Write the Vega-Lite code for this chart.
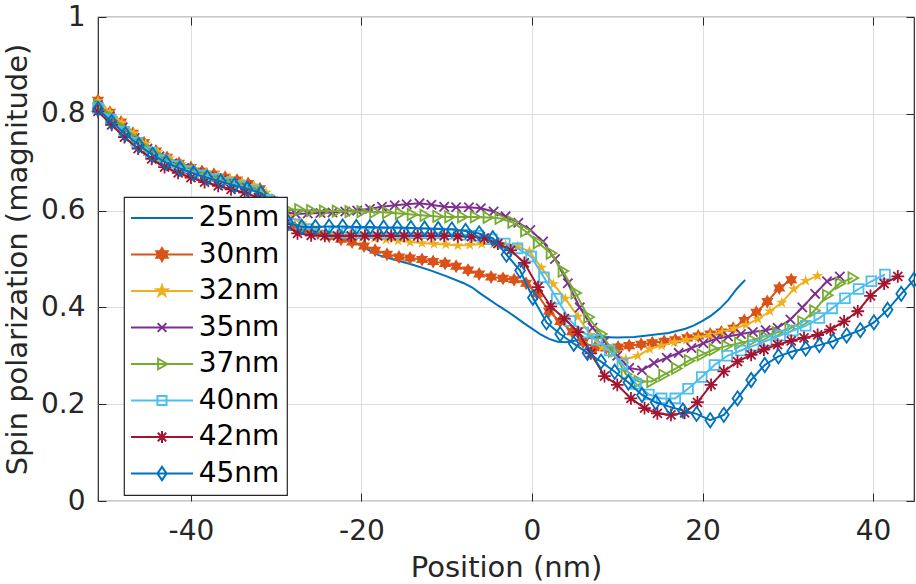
{
  "$schema": "https://vega.github.io/schema/vega-lite/v6.json",
  "width": 816,
  "height": 484,
  "autosize": "none",
  "padding": {"left": 98, "top": 17, "right": 2, "bottom": 83},
  "config": {
    "view": {"stroke": "#262626", "strokeWidth": 1.2},
    "font": "DejaVu Sans",
    "axis": {
      "labelFont": "DejaVu Sans", "labelFontSize": 28, "labelColor": "#262626",
      "titleFont": "DejaVu Sans", "titleFontSize": 29, "titleFontWeight": "normal", "titleColor": "#262626",
      "tickColor": "#262626", "tickSize": -8, "tickWidth": 1, "domain": false,
      "gridColor": "#dedede", "gridWidth": 1
    },
    "legend": {
      "orient": "none", "legendX": 26, "legendY": 180, "padding": 7,
      "strokeColor": "#262626", "strokeWidth": 1.2, "fillColor": "white",
      "labelFont": "DejaVu Sans", "labelFontSize": 28, "labelColor": "black", "labelLimit": 0,
      "labelOffset": 22.7, "symbolOffset": 17, "symbolSize": 196, "symbolStrokeWidth": 2, "rowPadding": 8.5
    }
  },
  "data": {
    "values": [
      {"s":"25nm","x":-50.9,"y":0.820},{"s":"25nm","x":-49.5,"y":0.797},{"s":"25nm","x":-48,"y":0.774},{"s":"25nm","x":-46.5,"y":0.752},
      {"s":"25nm","x":-45,"y":0.732},{"s":"25nm","x":-43.5,"y":0.716},{"s":"25nm","x":-42,"y":0.702},{"s":"25nm","x":-40,"y":0.689},
      {"s":"25nm","x":-38,"y":0.679},{"s":"25nm","x":-36,"y":0.670},{"s":"25nm","x":-34,"y":0.663},{"s":"25nm","x":-33,"y":0.658},
      {"s":"25nm","x":-32,"y":0.650},{"s":"25nm","x":-31,"y":0.636},{"s":"25nm","x":-30,"y":0.615},{"s":"25nm","x":-29,"y":0.588},
      {"s":"25nm","x":-28,"y":0.568},{"s":"25nm","x":-27,"y":0.561},{"s":"25nm","x":-26,"y":0.558},{"s":"25nm","x":-24,"y":0.552},
      {"s":"25nm","x":-22,"y":0.543},{"s":"25nm","x":-21,"y":0.536},{"s":"25nm","x":-20,"y":0.527},{"s":"25nm","x":-19,"y":0.517},
      {"s":"25nm","x":-18,"y":0.508},{"s":"25nm","x":-16,"y":0.498},{"s":"25nm","x":-14,"y":0.488},{"s":"25nm","x":-12,"y":0.477},
      {"s":"25nm","x":-10,"y":0.464},{"s":"25nm","x":-8,"y":0.450},{"s":"25nm","x":-7,"y":0.441},{"s":"25nm","x":-6,"y":0.428},
      {"s":"25nm","x":-5,"y":0.416},{"s":"25nm","x":-4,"y":0.404},{"s":"25nm","x":-3,"y":0.393},{"s":"25nm","x":-2,"y":0.381},
      {"s":"25nm","x":-1,"y":0.368},{"s":"25nm","x":0,"y":0.356},{"s":"25nm","x":1,"y":0.344},{"s":"25nm","x":2,"y":0.335},
      {"s":"25nm","x":3,"y":0.329},{"s":"25nm","x":4,"y":0.328},{"s":"25nm","x":5,"y":0.331},{"s":"25nm","x":6,"y":0.335},
      {"s":"25nm","x":7,"y":0.338},{"s":"25nm","x":8,"y":0.339},{"s":"25nm","x":10,"y":0.338},{"s":"25nm","x":12,"y":0.339},
      {"s":"25nm","x":14,"y":0.343},{"s":"25nm","x":16,"y":0.347},{"s":"25nm","x":18,"y":0.356},{"s":"25nm","x":19,"y":0.363},
      {"s":"25nm","x":20,"y":0.372},{"s":"25nm","x":21,"y":0.383},{"s":"25nm","x":22,"y":0.397},{"s":"25nm","x":23,"y":0.415},
      {"s":"25nm","x":24,"y":0.438},{"s":"25nm","x":25,"y":0.457},

      {"s":"30nm","x":-50.9,"y":0.828},{"s":"30nm","x":-49.5,"y":0.803},{"s":"30nm","x":-48.2,"y":0.783},{"s":"30nm","x":-46.8,"y":0.760},
      {"s":"30nm","x":-45.5,"y":0.740},{"s":"30nm","x":-44.1,"y":0.723},{"s":"30nm","x":-42.8,"y":0.710},{"s":"30nm","x":-41.4,"y":0.698},
      {"s":"30nm","x":-40.0,"y":0.689},{"s":"30nm","x":-38.7,"y":0.681},{"s":"30nm","x":-37.3,"y":0.675},{"s":"30nm","x":-36.0,"y":0.669},
      {"s":"30nm","x":-34.6,"y":0.663},{"s":"30nm","x":-33.3,"y":0.656},{"s":"30nm","x":-31.9,"y":0.645},{"s":"30nm","x":-30.5,"y":0.622},
      {"s":"30nm","x":-29.2,"y":0.590},{"s":"30nm","x":-27.8,"y":0.565},{"s":"30nm","x":-26.5,"y":0.560},{"s":"30nm","x":-25.1,"y":0.553},
      {"s":"30nm","x":-23.8,"y":0.547},{"s":"30nm","x":-22.4,"y":0.541},{"s":"30nm","x":-21.1,"y":0.535},{"s":"30nm","x":-19.7,"y":0.527},
      {"s":"30nm","x":-18.4,"y":0.518},{"s":"30nm","x":-17.0,"y":0.510},{"s":"30nm","x":-15.6,"y":0.504},{"s":"30nm","x":-14.3,"y":0.502},
      {"s":"30nm","x":-12.9,"y":0.499},{"s":"30nm","x":-11.6,"y":0.495},{"s":"30nm","x":-10.2,"y":0.491},{"s":"30nm","x":-8.9,"y":0.485},
      {"s":"30nm","x":-7.5,"y":0.477},{"s":"30nm","x":-6.2,"y":0.469},{"s":"30nm","x":-4.8,"y":0.463},{"s":"30nm","x":-3.4,"y":0.460},
      {"s":"30nm","x":-2.1,"y":0.457},{"s":"30nm","x":-0.7,"y":0.450},{"s":"30nm","x":0.6,"y":0.428},{"s":"30nm","x":2.0,"y":0.392},
      {"s":"30nm","x":3.3,"y":0.371},{"s":"30nm","x":4.7,"y":0.350},{"s":"30nm","x":6.0,"y":0.328},{"s":"30nm","x":7.4,"y":0.317},
      {"s":"30nm","x":8.7,"y":0.316},{"s":"30nm","x":10.1,"y":0.318},{"s":"30nm","x":11.4,"y":0.321},{"s":"30nm","x":12.8,"y":0.324},
      {"s":"30nm","x":14.1,"y":0.327},{"s":"30nm","x":15.5,"y":0.330},{"s":"30nm","x":16.8,"y":0.333},{"s":"30nm","x":18.2,"y":0.337},
      {"s":"30nm","x":19.5,"y":0.341},{"s":"30nm","x":20.9,"y":0.345},{"s":"30nm","x":22.2,"y":0.349},{"s":"30nm","x":23.6,"y":0.357},
      {"s":"30nm","x":24.9,"y":0.373},{"s":"30nm","x":26.3,"y":0.390},{"s":"30nm","x":27.6,"y":0.412},{"s":"30nm","x":29.0,"y":0.440},
      {"s":"30nm","x":30.4,"y":0.457},

      {"s":"32nm","x":-50.9,"y":0.826},{"s":"32nm","x":-49.5,"y":0.803},{"s":"32nm","x":-48.1,"y":0.782},{"s":"32nm","x":-46.7,"y":0.760},
      {"s":"32nm","x":-45.3,"y":0.738},{"s":"32nm","x":-43.9,"y":0.721},{"s":"32nm","x":-42.5,"y":0.708},{"s":"32nm","x":-41.1,"y":0.696},
      {"s":"32nm","x":-39.6,"y":0.686},{"s":"32nm","x":-38.2,"y":0.679},{"s":"32nm","x":-36.8,"y":0.673},{"s":"32nm","x":-35.4,"y":0.667},
      {"s":"32nm","x":-34.0,"y":0.660},{"s":"32nm","x":-32.6,"y":0.652},{"s":"32nm","x":-31.2,"y":0.637},{"s":"32nm","x":-29.8,"y":0.610},
      {"s":"32nm","x":-28.4,"y":0.588},{"s":"32nm","x":-27.0,"y":0.574},{"s":"32nm","x":-25.6,"y":0.562},{"s":"32nm","x":-24.2,"y":0.553},
      {"s":"32nm","x":-22.8,"y":0.550},{"s":"32nm","x":-21.4,"y":0.548},{"s":"32nm","x":-19.9,"y":0.545},{"s":"32nm","x":-18.5,"y":0.543},
      {"s":"32nm","x":-17.1,"y":0.540},{"s":"32nm","x":-15.7,"y":0.538},{"s":"32nm","x":-14.3,"y":0.535},{"s":"32nm","x":-12.9,"y":0.533},
      {"s":"32nm","x":-11.5,"y":0.531},{"s":"32nm","x":-10.1,"y":0.530},{"s":"32nm","x":-8.7,"y":0.528},{"s":"32nm","x":-7.3,"y":0.529},
      {"s":"32nm","x":-5.9,"y":0.531},{"s":"32nm","x":-4.5,"y":0.531},{"s":"32nm","x":-3.1,"y":0.529},{"s":"32nm","x":-1.7,"y":0.526},
      {"s":"32nm","x":-0.3,"y":0.516},{"s":"32nm","x":1.1,"y":0.482},{"s":"32nm","x":2.5,"y":0.448},{"s":"32nm","x":3.9,"y":0.418},
      {"s":"32nm","x":5.4,"y":0.381},{"s":"32nm","x":6.8,"y":0.343},{"s":"32nm","x":8.2,"y":0.318},{"s":"32nm","x":9.6,"y":0.305},
      {"s":"32nm","x":11.0,"y":0.293},{"s":"32nm","x":12.4,"y":0.300},{"s":"32nm","x":13.8,"y":0.314},{"s":"32nm","x":15.2,"y":0.321},
      {"s":"32nm","x":16.7,"y":0.328},{"s":"32nm","x":18.1,"y":0.333},{"s":"32nm","x":19.5,"y":0.338},{"s":"32nm","x":20.9,"y":0.343},
      {"s":"32nm","x":22.3,"y":0.349},{"s":"32nm","x":23.7,"y":0.356},{"s":"32nm","x":25.1,"y":0.364},{"s":"32nm","x":26.5,"y":0.376},
      {"s":"32nm","x":27.9,"y":0.392},{"s":"32nm","x":29.3,"y":0.410},{"s":"32nm","x":30.7,"y":0.438},{"s":"32nm","x":32.1,"y":0.455},
      {"s":"32nm","x":33.5,"y":0.465},

      {"s":"35nm","x":-50.9,"y":0.818},{"s":"35nm","x":-49.5,"y":0.795},{"s":"35nm","x":-48.0,"y":0.772},{"s":"35nm","x":-46.6,"y":0.750},
      {"s":"35nm","x":-45.1,"y":0.728},{"s":"35nm","x":-43.7,"y":0.712},{"s":"35nm","x":-42.2,"y":0.698},{"s":"35nm","x":-40.8,"y":0.688},
      {"s":"35nm","x":-39.3,"y":0.678},{"s":"35nm","x":-37.9,"y":0.670},{"s":"35nm","x":-36.4,"y":0.663},{"s":"35nm","x":-35.0,"y":0.656},
      {"s":"35nm","x":-33.5,"y":0.648},{"s":"35nm","x":-32.1,"y":0.638},{"s":"35nm","x":-30.6,"y":0.618},{"s":"35nm","x":-29.2,"y":0.598},
      {"s":"35nm","x":-27.7,"y":0.593},{"s":"35nm","x":-26.3,"y":0.594},{"s":"35nm","x":-24.8,"y":0.595},{"s":"35nm","x":-23.4,"y":0.596},
      {"s":"35nm","x":-21.9,"y":0.598},{"s":"35nm","x":-20.5,"y":0.600},{"s":"35nm","x":-19.0,"y":0.604},{"s":"35nm","x":-17.6,"y":0.608},
      {"s":"35nm","x":-16.1,"y":0.611},{"s":"35nm","x":-14.7,"y":0.613},{"s":"35nm","x":-13.2,"y":0.615},{"s":"35nm","x":-11.8,"y":0.612},
      {"s":"35nm","x":-10.3,"y":0.608},{"s":"35nm","x":-8.9,"y":0.607},{"s":"35nm","x":-7.4,"y":0.607},{"s":"35nm","x":-6.0,"y":0.605},
      {"s":"35nm","x":-4.5,"y":0.598},{"s":"35nm","x":-3.1,"y":0.588},{"s":"35nm","x":-1.6,"y":0.575},{"s":"35nm","x":-0.2,"y":0.560},
      {"s":"35nm","x":1.3,"y":0.536},{"s":"35nm","x":2.7,"y":0.500},{"s":"35nm","x":4.2,"y":0.450},{"s":"35nm","x":5.6,"y":0.400},
      {"s":"35nm","x":7.1,"y":0.358},{"s":"35nm","x":8.5,"y":0.330},{"s":"35nm","x":10.0,"y":0.300},{"s":"35nm","x":11.4,"y":0.275},
      {"s":"35nm","x":12.9,"y":0.270},{"s":"35nm","x":14.3,"y":0.285},{"s":"35nm","x":15.8,"y":0.296},{"s":"35nm","x":17.2,"y":0.306},
      {"s":"35nm","x":18.7,"y":0.316},{"s":"35nm","x":20.1,"y":0.326},{"s":"35nm","x":21.6,"y":0.335},{"s":"35nm","x":23.0,"y":0.340},
      {"s":"35nm","x":24.5,"y":0.345},{"s":"35nm","x":25.9,"y":0.349},{"s":"35nm","x":27.4,"y":0.353},{"s":"35nm","x":28.8,"y":0.358},
      {"s":"35nm","x":30.3,"y":0.375},{"s":"35nm","x":31.7,"y":0.400},{"s":"35nm","x":33.2,"y":0.428},{"s":"35nm","x":34.6,"y":0.454},
      {"s":"35nm","x":36.1,"y":0.464},

      {"s":"37nm","x":-50.9,"y":0.818},{"s":"37nm","x":-49.4,"y":0.794},{"s":"37nm","x":-47.9,"y":0.770},{"s":"37nm","x":-46.5,"y":0.748},
      {"s":"37nm","x":-45.0,"y":0.727},{"s":"37nm","x":-43.5,"y":0.710},{"s":"37nm","x":-42.1,"y":0.697},{"s":"37nm","x":-40.6,"y":0.687},
      {"s":"37nm","x":-39.1,"y":0.677},{"s":"37nm","x":-37.6,"y":0.669},{"s":"37nm","x":-36.2,"y":0.662},{"s":"37nm","x":-34.7,"y":0.655},
      {"s":"37nm","x":-33.2,"y":0.647},{"s":"37nm","x":-31.7,"y":0.636},{"s":"37nm","x":-30.3,"y":0.617},{"s":"37nm","x":-28.8,"y":0.603},
      {"s":"37nm","x":-27.3,"y":0.602},{"s":"37nm","x":-25.9,"y":0.600},{"s":"37nm","x":-24.4,"y":0.599},{"s":"37nm","x":-22.9,"y":0.599},
      {"s":"37nm","x":-21.4,"y":0.598},{"s":"37nm","x":-20.0,"y":0.598},{"s":"37nm","x":-18.5,"y":0.597},{"s":"37nm","x":-17.0,"y":0.596},
      {"s":"37nm","x":-15.5,"y":0.594},{"s":"37nm","x":-14.1,"y":0.592},{"s":"37nm","x":-12.6,"y":0.590},{"s":"37nm","x":-11.1,"y":0.588},
      {"s":"37nm","x":-9.7,"y":0.587},{"s":"37nm","x":-8.2,"y":0.587},{"s":"37nm","x":-6.7,"y":0.587},{"s":"37nm","x":-5.2,"y":0.586},
      {"s":"37nm","x":-3.8,"y":0.584},{"s":"37nm","x":-2.3,"y":0.576},{"s":"37nm","x":-0.8,"y":0.558},{"s":"37nm","x":0.7,"y":0.534},
      {"s":"37nm","x":2.2,"y":0.512},{"s":"37nm","x":3.6,"y":0.475},{"s":"37nm","x":5.1,"y":0.430},{"s":"37nm","x":6.6,"y":0.380},
      {"s":"37nm","x":8.1,"y":0.345},{"s":"37nm","x":9.5,"y":0.310},{"s":"37nm","x":11.0,"y":0.262},{"s":"37nm","x":12.5,"y":0.247},
      {"s":"37nm","x":14.0,"y":0.247},{"s":"37nm","x":15.4,"y":0.260},{"s":"37nm","x":16.9,"y":0.274},{"s":"37nm","x":18.4,"y":0.290},
      {"s":"37nm","x":19.9,"y":0.302},{"s":"37nm","x":21.3,"y":0.313},{"s":"37nm","x":22.8,"y":0.320},{"s":"37nm","x":24.3,"y":0.326},
      {"s":"37nm","x":25.8,"y":0.332},{"s":"37nm","x":27.2,"y":0.340},{"s":"37nm","x":28.7,"y":0.348},{"s":"37nm","x":30.2,"y":0.356},
      {"s":"37nm","x":31.7,"y":0.370},{"s":"37nm","x":33.1,"y":0.393},{"s":"37nm","x":34.6,"y":0.425},{"s":"37nm","x":36.1,"y":0.450},
      {"s":"37nm","x":37.6,"y":0.461},

      {"s":"40nm","x":-50.9,"y":0.812},{"s":"40nm","x":-49.4,"y":0.788},{"s":"40nm","x":-47.8,"y":0.763},{"s":"40nm","x":-46.3,"y":0.740},
      {"s":"40nm","x":-44.7,"y":0.720},{"s":"40nm","x":-43.2,"y":0.704},{"s":"40nm","x":-41.7,"y":0.692},{"s":"40nm","x":-40.1,"y":0.682},
      {"s":"40nm","x":-38.6,"y":0.673},{"s":"40nm","x":-37.1,"y":0.665},{"s":"40nm","x":-35.5,"y":0.657},{"s":"40nm","x":-34.0,"y":0.650},
      {"s":"40nm","x":-32.4,"y":0.641},{"s":"40nm","x":-30.9,"y":0.622},{"s":"40nm","x":-29.4,"y":0.595},{"s":"40nm","x":-27.8,"y":0.572},
      {"s":"40nm","x":-26.3,"y":0.562},{"s":"40nm","x":-24.8,"y":0.557},{"s":"40nm","x":-23.2,"y":0.555},{"s":"40nm","x":-21.7,"y":0.554},
      {"s":"40nm","x":-20.1,"y":0.553},{"s":"40nm","x":-18.6,"y":0.553},{"s":"40nm","x":-17.1,"y":0.553},{"s":"40nm","x":-15.5,"y":0.553},
      {"s":"40nm","x":-14.0,"y":0.553},{"s":"40nm","x":-12.4,"y":0.553},{"s":"40nm","x":-10.9,"y":0.553},{"s":"40nm","x":-9.4,"y":0.552},
      {"s":"40nm","x":-7.8,"y":0.550},{"s":"40nm","x":-6.3,"y":0.548},{"s":"40nm","x":-4.7,"y":0.541},{"s":"40nm","x":-3.2,"y":0.532},
      {"s":"40nm","x":-1.7,"y":0.522},{"s":"40nm","x":-0.1,"y":0.505},{"s":"40nm","x":1.4,"y":0.462},{"s":"40nm","x":2.9,"y":0.418},
      {"s":"40nm","x":4.5,"y":0.372},{"s":"40nm","x":6.0,"y":0.348},{"s":"40nm","x":7.6,"y":0.333},{"s":"40nm","x":9.1,"y":0.311},
      {"s":"40nm","x":10.6,"y":0.283},{"s":"40nm","x":12.2,"y":0.242},{"s":"40nm","x":13.7,"y":0.220},{"s":"40nm","x":15.2,"y":0.212},
      {"s":"40nm","x":16.8,"y":0.212},{"s":"40nm","x":18.3,"y":0.232},{"s":"40nm","x":19.9,"y":0.256},{"s":"40nm","x":21.4,"y":0.281},
      {"s":"40nm","x":22.9,"y":0.300},{"s":"40nm","x":24.5,"y":0.311},{"s":"40nm","x":26.0,"y":0.321},{"s":"40nm","x":27.5,"y":0.331},
      {"s":"40nm","x":29.1,"y":0.342},{"s":"40nm","x":30.6,"y":0.352},{"s":"40nm","x":32.1,"y":0.362},{"s":"40nm","x":33.7,"y":0.378},
      {"s":"40nm","x":35.2,"y":0.398},{"s":"40nm","x":36.7,"y":0.419},{"s":"40nm","x":38.3,"y":0.438},{"s":"40nm","x":39.8,"y":0.454},
      {"s":"40nm","x":41.4,"y":0.468},

      {"s":"42nm","x":-50.9,"y":0.805},{"s":"42nm","x":-49.3,"y":0.777},{"s":"42nm","x":-47.8,"y":0.752},{"s":"42nm","x":-46.2,"y":0.728},
      {"s":"42nm","x":-44.6,"y":0.707},{"s":"42nm","x":-43.1,"y":0.690},{"s":"42nm","x":-41.5,"y":0.678},{"s":"42nm","x":-40.0,"y":0.668},
      {"s":"42nm","x":-38.4,"y":0.659},{"s":"42nm","x":-36.8,"y":0.651},{"s":"42nm","x":-35.3,"y":0.644},{"s":"42nm","x":-33.7,"y":0.637},
      {"s":"42nm","x":-32.1,"y":0.627},{"s":"42nm","x":-30.6,"y":0.607},{"s":"42nm","x":-29.0,"y":0.572},{"s":"42nm","x":-27.5,"y":0.553},
      {"s":"42nm","x":-25.9,"y":0.549},{"s":"42nm","x":-24.3,"y":0.548},{"s":"42nm","x":-22.8,"y":0.548},{"s":"42nm","x":-21.2,"y":0.548},
      {"s":"42nm","x":-19.6,"y":0.548},{"s":"42nm","x":-18.1,"y":0.548},{"s":"42nm","x":-16.5,"y":0.548},{"s":"42nm","x":-15.0,"y":0.548},
      {"s":"42nm","x":-13.4,"y":0.548},{"s":"42nm","x":-11.8,"y":0.548},{"s":"42nm","x":-10.3,"y":0.548},{"s":"42nm","x":-8.7,"y":0.547},
      {"s":"42nm","x":-7.1,"y":0.546},{"s":"42nm","x":-5.6,"y":0.543},{"s":"42nm","x":-4.0,"y":0.532},{"s":"42nm","x":-2.5,"y":0.518},
      {"s":"42nm","x":-0.9,"y":0.492},{"s":"42nm","x":0.7,"y":0.442},{"s":"42nm","x":2.2,"y":0.402},{"s":"42nm","x":3.8,"y":0.377},
      {"s":"42nm","x":5.4,"y":0.349},{"s":"42nm","x":6.9,"y":0.305},{"s":"42nm","x":8.5,"y":0.258},{"s":"42nm","x":10.0,"y":0.240},
      {"s":"42nm","x":11.6,"y":0.212},{"s":"42nm","x":13.2,"y":0.192},{"s":"42nm","x":14.7,"y":0.181},{"s":"42nm","x":16.3,"y":0.178},
      {"s":"42nm","x":17.9,"y":0.182},{"s":"42nm","x":19.4,"y":0.204},{"s":"42nm","x":21.0,"y":0.240},{"s":"42nm","x":22.5,"y":0.268},
      {"s":"42nm","x":24.1,"y":0.288},{"s":"42nm","x":25.7,"y":0.302},{"s":"42nm","x":27.2,"y":0.313},{"s":"42nm","x":28.8,"y":0.323},
      {"s":"42nm","x":30.4,"y":0.331},{"s":"42nm","x":31.9,"y":0.337},{"s":"42nm","x":33.5,"y":0.343},{"s":"42nm","x":35.0,"y":0.354},
      {"s":"42nm","x":36.6,"y":0.371},{"s":"42nm","x":38.2,"y":0.392},{"s":"42nm","x":39.7,"y":0.424},{"s":"42nm","x":41.3,"y":0.449},
      {"s":"42nm","x":42.9,"y":0.464},

      {"s":"45nm","x":-50.9,"y":0.810},{"s":"45nm","x":-49.3,"y":0.783},{"s":"45nm","x":-47.7,"y":0.758},{"s":"45nm","x":-46.1,"y":0.735},
      {"s":"45nm","x":-44.5,"y":0.715},{"s":"45nm","x":-42.9,"y":0.699},{"s":"45nm","x":-41.3,"y":0.687},{"s":"45nm","x":-39.7,"y":0.677},
      {"s":"45nm","x":-38.1,"y":0.668},{"s":"45nm","x":-36.5,"y":0.660},{"s":"45nm","x":-34.9,"y":0.652},{"s":"45nm","x":-33.4,"y":0.645},
      {"s":"45nm","x":-31.8,"y":0.636},{"s":"45nm","x":-30.2,"y":0.614},{"s":"45nm","x":-28.6,"y":0.575},{"s":"45nm","x":-27.0,"y":0.566},
      {"s":"45nm","x":-25.4,"y":0.566},{"s":"45nm","x":-23.8,"y":0.567},{"s":"45nm","x":-22.2,"y":0.567},{"s":"45nm","x":-20.6,"y":0.566},
      {"s":"45nm","x":-19.0,"y":0.566},{"s":"45nm","x":-17.4,"y":0.565},{"s":"45nm","x":-15.8,"y":0.565},{"s":"45nm","x":-14.2,"y":0.564},
      {"s":"45nm","x":-12.6,"y":0.563},{"s":"45nm","x":-11.0,"y":0.562},{"s":"45nm","x":-9.4,"y":0.561},{"s":"45nm","x":-7.8,"y":0.558},
      {"s":"45nm","x":-6.2,"y":0.553},{"s":"45nm","x":-4.6,"y":0.543},{"s":"45nm","x":-3.0,"y":0.509},{"s":"45nm","x":-1.4,"y":0.476},
      {"s":"45nm","x":0.1,"y":0.420},{"s":"45nm","x":1.7,"y":0.369},{"s":"45nm","x":3.3,"y":0.345},{"s":"45nm","x":4.9,"y":0.325},
      {"s":"45nm","x":6.5,"y":0.306},{"s":"45nm","x":8.1,"y":0.288},{"s":"45nm","x":9.7,"y":0.267},{"s":"45nm","x":11.3,"y":0.245},
      {"s":"45nm","x":12.9,"y":0.219},{"s":"45nm","x":14.5,"y":0.204},{"s":"45nm","x":16.1,"y":0.195},{"s":"45nm","x":17.7,"y":0.187},
      {"s":"45nm","x":19.3,"y":0.180},{"s":"45nm","x":20.9,"y":0.167},{"s":"45nm","x":22.5,"y":0.178},{"s":"45nm","x":24.1,"y":0.212},
      {"s":"45nm","x":25.7,"y":0.250},{"s":"45nm","x":27.3,"y":0.281},{"s":"45nm","x":28.9,"y":0.299},{"s":"45nm","x":30.5,"y":0.309},
      {"s":"45nm","x":32.1,"y":0.315},{"s":"45nm","x":33.7,"y":0.322},{"s":"45nm","x":35.3,"y":0.330},{"s":"45nm","x":36.9,"y":0.342},
      {"s":"45nm","x":38.5,"y":0.353},{"s":"45nm","x":40.1,"y":0.369},{"s":"45nm","x":41.7,"y":0.395},{"s":"45nm","x":43.3,"y":0.428},
      {"s":"45nm","x":44.8,"y":0.457}
    ]
  },
  "layer": [
    {
      "encoding": {
        "x": {
          "field": "x", "type": "quantitative",
          "scale": {"domain": [-50.9, 44.8], "nice": false, "zero": false},
          "axis": {
            "orient": "bottom", "values": [-40, -20, 0, 20, 40], "grid": true,
            "labelExpr": "datum.value < 0 ? '-' + (-datum.value) : '' + datum.value",
            "title": "Position (nm)", "labelPadding": 24, "titlePadding": 8, "labelFlush": false
          }
        },
        "y": {
          "field": "y", "type": "quantitative",
          "scale": {"domain": [0, 1], "nice": false, "zero": false},
          "axis": {
            "orient": "left", "values": [0, 0.2, 0.4, 0.6, 0.8, 1], "grid": true, "format": "~g",
            "title": "Spin polarization (magnitude)", "labelPadding": 21, "titlePadding": 8
          }
        }
      },
      "layer": [
        {"transform": [{"filter": "datum.s == '25nm'"}],
         "mark": {"type": "line", "color": "#0072BD", "strokeWidth": 2}},
        {"transform": [{"filter": "datum.s == '30nm'"}],
         "mark": {"type": "line", "color": "#D95319", "strokeWidth": 2,
           "point": {"color": "#D95319", "filled": true, "opacity": 1, "size": 225, "strokeWidth": 1.8,
             "shape": "M0,-0.93L0.27,-0.47L0.81,-0.47L0.54,0L0.81,0.47L0.27,0.47L0,0.93L-0.27,0.47L-0.81,0.47L-0.54,0L-0.81,-0.47L-0.27,-0.47Z"}}},
        {"transform": [{"filter": "datum.s == '32nm'"}],
         "mark": {"type": "line", "color": "#EDB120", "strokeWidth": 2,
           "point": {"color": "#EDB120", "filled": true, "opacity": 1, "size": 225, "strokeWidth": 1.8,
             "shape": "M0,-0.8L0.18,-0.25L0.76,-0.25L0.29,0.09L0.47,0.65L0,0.31L-0.47,0.65L-0.29,0.09L-0.76,-0.25L-0.18,-0.25Z"}}},
        {"transform": [{"filter": "datum.s == '35nm'"}],
         "mark": {"type": "line", "color": "#7E2F8E", "strokeWidth": 2,
           "point": {"color": "#7E2F8E", "filled": false, "opacity": 1, "size": 225, "strokeWidth": 1.8,
             "shape": "M-0.62,-0.62L0.62,0.62M-0.62,0.62L0.62,-0.62"}}},
        {"transform": [{"filter": "datum.s == '37nm'"}],
         "mark": {"type": "line", "color": "#77AC30", "strokeWidth": 2,
           "point": {"color": "#77AC30", "filled": false, "opacity": 1, "size": 225, "strokeWidth": 1.8,
             "shape": "M-0.55,-0.75L0.75,0L-0.55,0.75Z"}}},
        {"transform": [{"filter": "datum.s == '40nm'"}],
         "mark": {"type": "line", "color": "#4DBEEE", "strokeWidth": 2,
           "point": {"color": "#4DBEEE", "filled": false, "opacity": 1, "size": 225, "strokeWidth": 1.8,
             "shape": "M-0.65,-0.65H0.65V0.65H-0.65Z"}}},
        {"transform": [{"filter": "datum.s == '42nm'"}],
         "mark": {"type": "line", "color": "#A2142F", "strokeWidth": 2,
           "point": {"color": "#A2142F", "filled": false, "opacity": 1, "size": 225, "strokeWidth": 1.8,
             "shape": "M0,-0.85V0.85M-0.85,0H0.85M-0.6,-0.6L0.6,0.6M-0.6,0.6L0.6,-0.6"}}},
        {"transform": [{"filter": "datum.s == '45nm'"}],
         "mark": {"type": "line", "color": "#0072BD", "strokeWidth": 2,
           "point": {"color": "#0072BD", "filled": false, "opacity": 1, "size": 225, "strokeWidth": 1.8,
             "shape": "M0,-0.95L0.65,0L0,0.95L-0.65,0Z"}}}
      ]
    },
    {
      "transform": [{"filter": "datum.x > 999"}],
      "mark": {"type": "point", "filled": true, "opacity": 1, "size": 196, "strokeWidth": 2},
      "encoding": {
        "x": {
          "field": "x", "type": "quantitative",
          "scale": {"domain": [-50.9, 44.8], "nice": false, "zero": false},
          "axis": {"orient": "top", "values": [-40, -20, 0, 20, 40], "labels": false, "grid": false, "title": null}
        },
        "y": {
          "field": "y", "type": "quantitative",
          "scale": {"domain": [0, 1], "nice": false, "zero": false},
          "axis": {"orient": "right", "values": [0, 0.2, 0.4, 0.6, 0.8, 1], "labels": false, "grid": false, "title": null}
        },
        "stroke": {
          "field": "s", "type": "nominal",
          "scale": {"domain": ["25nm", "30nm", "32nm", "35nm", "37nm", "40nm", "42nm", "45nm"],
                    "range": ["#0072BD", "#D95319", "#EDB120", "#7E2F8E", "#77AC30", "#4DBEEE", "#A2142F", "#0072BD"]},
          "legend": {"title": null}
        },
        "fill": {
          "field": "s", "type": "nominal",
          "scale": {"domain": ["25nm", "30nm", "32nm", "35nm", "37nm", "40nm", "42nm", "45nm"],
                    "range": ["transparent", "#D95319", "#EDB120", "transparent", "transparent", "transparent", "transparent", "transparent"]},
          "legend": {"title": null}
        },
        "shape": {
          "field": "s", "type": "nominal",
          "scale": {"domain": ["25nm", "30nm", "32nm", "35nm", "37nm", "40nm", "42nm", "45nm"],
                    "range": [
                      "M-4.43,0H4.43",
                      "M-4.43,0H4.43M0,-0.93L0.27,-0.47L0.81,-0.47L0.54,0L0.81,0.47L0.27,0.47L0,0.93L-0.27,0.47L-0.81,0.47L-0.54,0L-0.81,-0.47L-0.27,-0.47Z",
                      "M-4.43,0H4.43M0,-0.8L0.18,-0.25L0.76,-0.25L0.29,0.09L0.47,0.65L0,0.31L-0.47,0.65L-0.29,0.09L-0.76,-0.25L-0.18,-0.25Z",
                      "M-4.43,0H4.43M-0.62,-0.62L0.62,0.62M-0.62,0.62L0.62,-0.62",
                      "M-4.43,0H4.43M-0.55,-0.75L0.75,0L-0.55,0.75Z",
                      "M-4.43,0H4.43M-0.65,-0.65H0.65V0.65H-0.65Z",
                      "M-4.43,0H4.43M0,-0.85V0.85M-0.85,0H0.85M-0.6,-0.6L0.6,0.6M-0.6,0.6L0.6,-0.6",
                      "M-4.43,0H4.43M0,-0.95L0.65,0L0,0.95L-0.65,0Z"
                    ]},
          "legend": {"title": null}
        }
      }
    }
  ],
  "resolve": {"axis": {"x": "independent", "y": "independent"}}
}
